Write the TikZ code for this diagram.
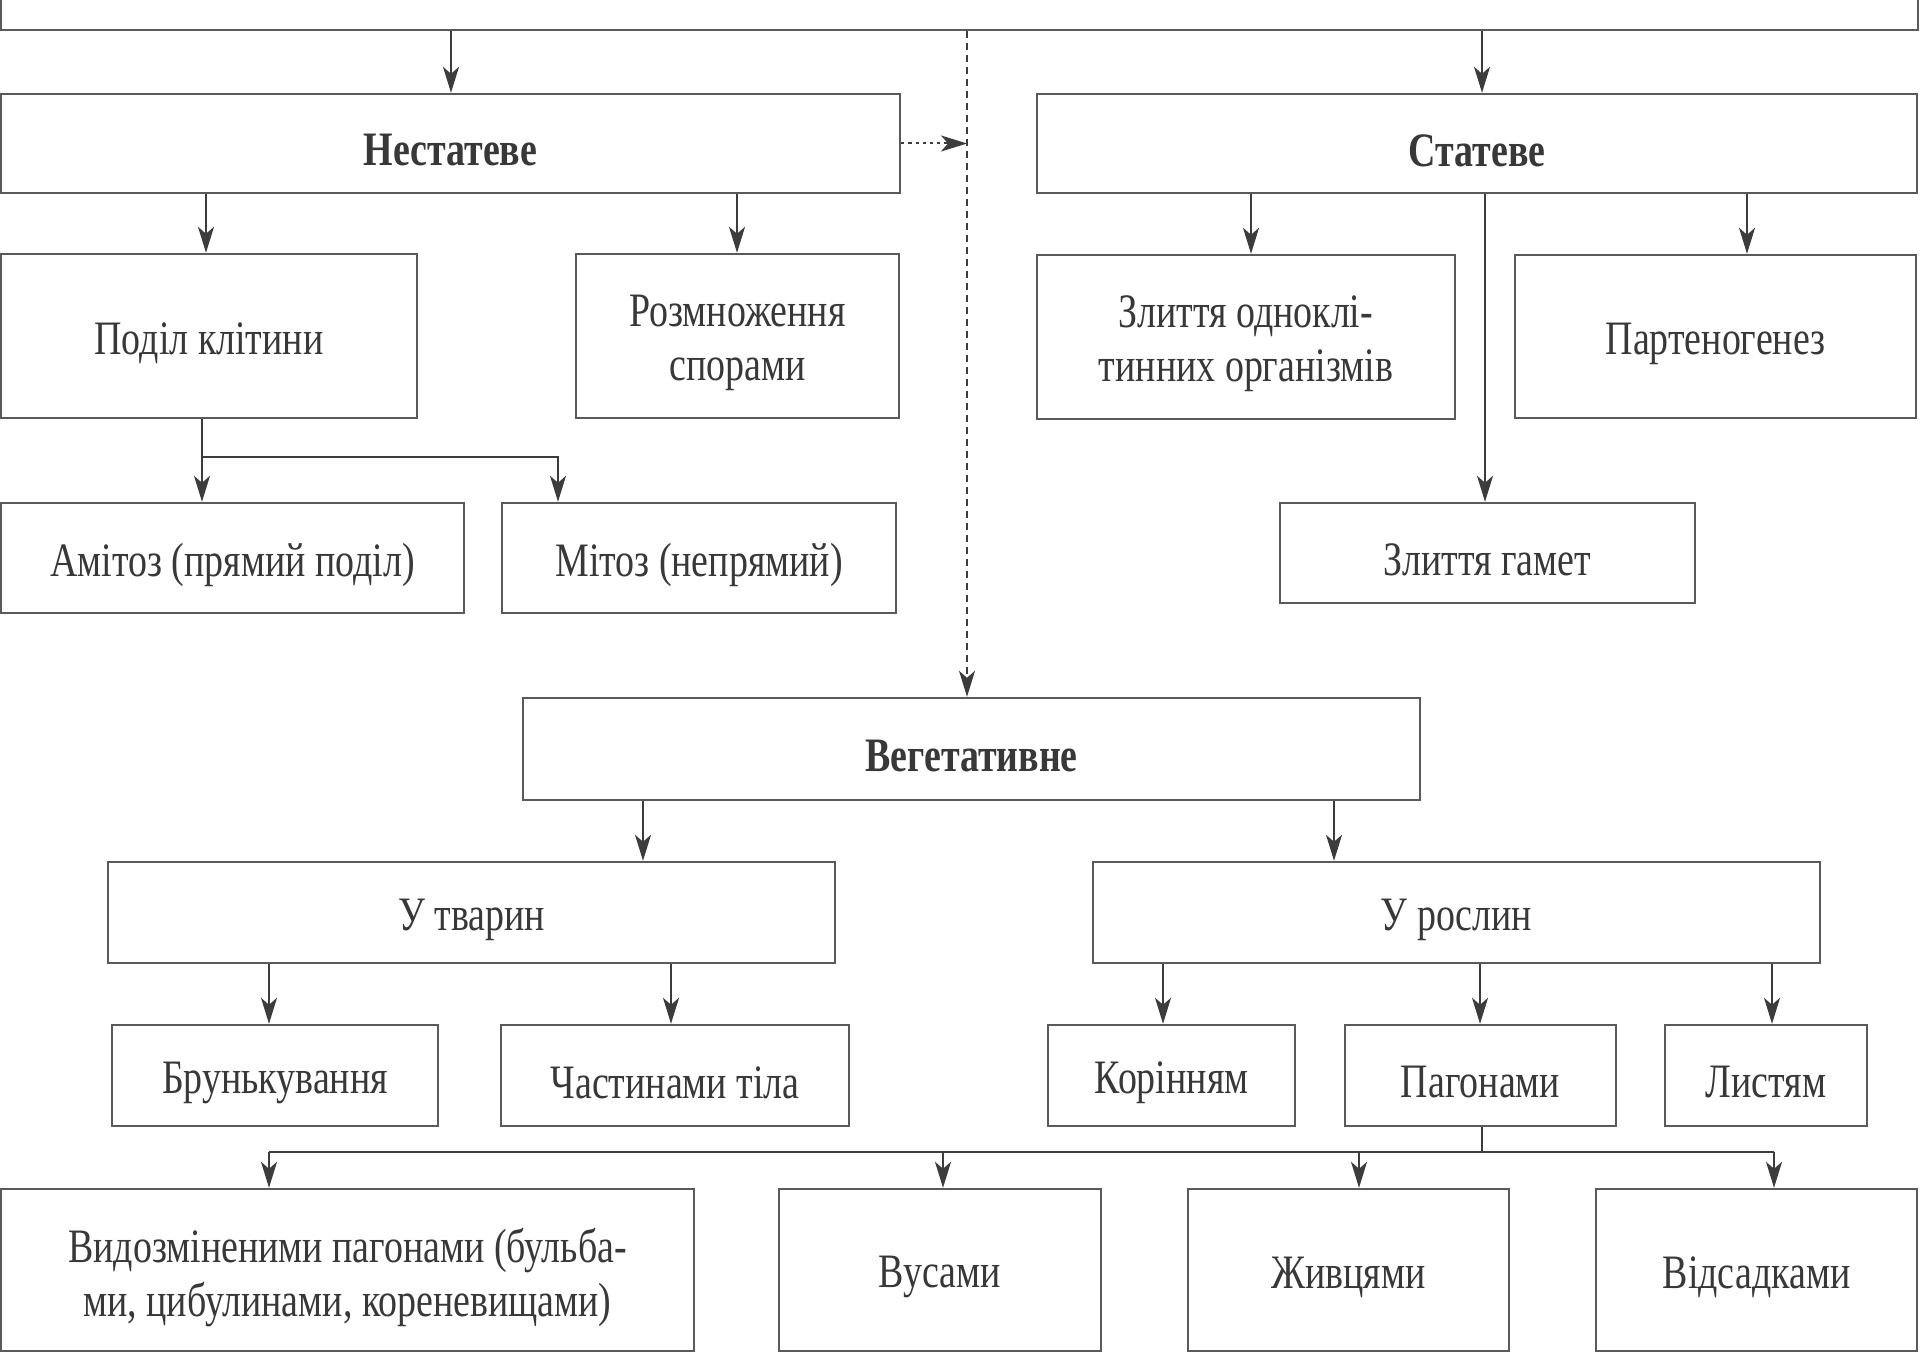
\documentclass[tikz,border=0pt]{standalone}
\usepackage{fontspec}
\setmainfont{Liberation Serif}[FakeStretch=0.79]
\usetikzlibrary{arrows.meta,fit}
\definecolor{boxgray}{HTML}{5A5A5A}
\definecolor{linegray}{HTML}{3C3C3C}
\definecolor{txtgray}{HTML}{383838}
\begin{document}
\begin{tikzpicture}[x=0.5pt,y=-0.5pt,
  box/.style={draw=boxgray, line width=1.2pt, fill=white, inner sep=0pt},
  txt/.style={align=center, text=txtgray, inner sep=0pt, yshift=-3.5pt, font=\fontsize{24}{27}\selectfont},
  lbl/.style={label={[txt]center:#1}},
  arr/.style={draw=linegray, line width=1pt, -{Stealth[length=13pt,width=8pt,inset=3.5pt]}},
  ln/.style={draw=linegray, line width=1pt},
]
\useasboundingbox (0,0) rectangle (1920,1353);

% boxes
\node[box, fit={(1,-60) (1918,30)}] (top) {};
\node[box, fit={(1,94) (900,193)}, lbl={\bfseries Нестатеве}] (nest) {};
\node[box, fit={(1037,94) (1917,193)}, lbl={\bfseries Статеве}] (stat) {};
\node[box, fit={(1,254) (417,418)}, lbl={Поділ клітини}] (podil) {};
\node[box, fit={(576,254) (899,418)}, lbl={Розмноження\\спорами}] (spory) {};
\node[box, fit={(1037,255) (1455,419)}, lbl={Злиття одноклі-\\тинних організмів}] (zlyt) {};
\node[box, fit={(1515,255) (1916,418)}, lbl={Партеногенез}] (parten) {};
\node[box, fit={(1,503) (464,613)}, lbl={Амітоз (прямий поділ)}] (amitoz) {};
\node[box, fit={(502,503) (896,613)}, lbl={Мітоз (непрямий)}] (mitoz) {};
\node[box, fit={(1280,503) (1695,603)}, lbl={Злиття гамет}] (gamet) {};
\node[box, fit={(523,698) (1420,800)}, lbl={\bfseries Вегетативне}] (veget) {};
\node[box, fit={(108,862) (835,963)}, lbl={У тварин}] (tvaryn) {};
\node[box, fit={(1093,862) (1820,963)}, lbl={У рослин}] (roslyn) {};
\node[box, fit={(112,1025) (438,1126)}, lbl={Брунькування}] (brun) {};
\node[box, fit={(501,1025) (849,1126)}, lbl={Частинами тіла}] (chast) {};
\node[box, fit={(1048,1025) (1295,1126)}, lbl={Корінням}] (korin) {};
\node[box, fit={(1345,1025) (1616,1126)}, lbl={Пагонами}] (pagon) {};
\node[box, fit={(1665,1025) (1867,1126)}, lbl={Листям}] (lyst) {};
\node[box, fit={(1,1189) (694,1351)}, lbl={Видозміненими пагонами (бульба-\\ми, цибулинами, кореневищами)}] (vydoz) {};
\node[box, fit={(779,1189) (1101,1351)}, lbl={Вусами}] (vusy) {};
\node[box, fit={(1188,1189) (1509,1351)}, lbl={Живцями}] (zhyv) {};
\node[box, fit={(1596,1189) (1917,1351)}, lbl={Відсадками}] (vids) {};

% connectors
\coordinate (vx) at (967,0);
\draw[arr] (451,0 |- top.south) -- (451,0 |- nest.north);
\draw[arr] (1482,0 |- top.south) -- (1482,0 |- stat.north);
\draw[arr, dash pattern=on 3.5pt off 2.5pt] (vx |- top.south) -- (vx |- veget.north);
\draw[arr, dash pattern=on 1.6pt off 2pt] (nest.east) -- (nest.east -| vx);

\draw[arr] (206,0 |- nest.south) -- (206,0 |- podil.north);
\draw[arr] (737,0 |- nest.south) -- (737,0 |- spory.north);
\draw[arr] (1251,0 |- stat.south) -- (1251,0 |- zlyt.north);
\draw[arr] (1485,0 |- stat.south) -- (1485,0 |- gamet.north);
\draw[arr] (1747,0 |- stat.south) -- (1747,0 |- parten.north);

\coordinate (pj) at (202,457);
\draw[arr] (pj |- podil.south) -- (pj |- amitoz.north);
\draw[arr] (pj) -| (558,0 |- mitoz.north);

\draw[arr] (643,0 |- veget.south) -- (643,0 |- tvaryn.north);
\draw[arr] (1334,0 |- veget.south) -- (1334,0 |- roslyn.north);

\draw[arr] (269,0 |- tvaryn.south) -- (269,0 |- brun.north);
\draw[arr] (671,0 |- tvaryn.south) -- (671,0 |- chast.north);
\draw[arr] (1163,0 |- roslyn.south) -- (1163,0 |- korin.north);
\draw[arr] (1480,0 |- roslyn.south) -- (1480,0 |- pagon.north);
\draw[arr] (1772,0 |- roslyn.south) -- (1772,0 |- lyst.north);

\coordinate (hl) at (269,1152);
\coordinate (hr) at (1774,1152);
\draw[ln] (1482,0 |- pagon.south) -- (1482,0 |- hl);
\draw[ln] (hl) -- (hr);
\draw[arr] (hl) -- (hl |- vydoz.north);
\draw[arr] (943,0 |- hl) -- (943,0 |- vusy.north);
\draw[arr] (1359,0 |- hl) -- (1359,0 |- zhyv.north);
\draw[arr] (hr) -- (hr |- vids.north);
\end{tikzpicture}
\end{document}
